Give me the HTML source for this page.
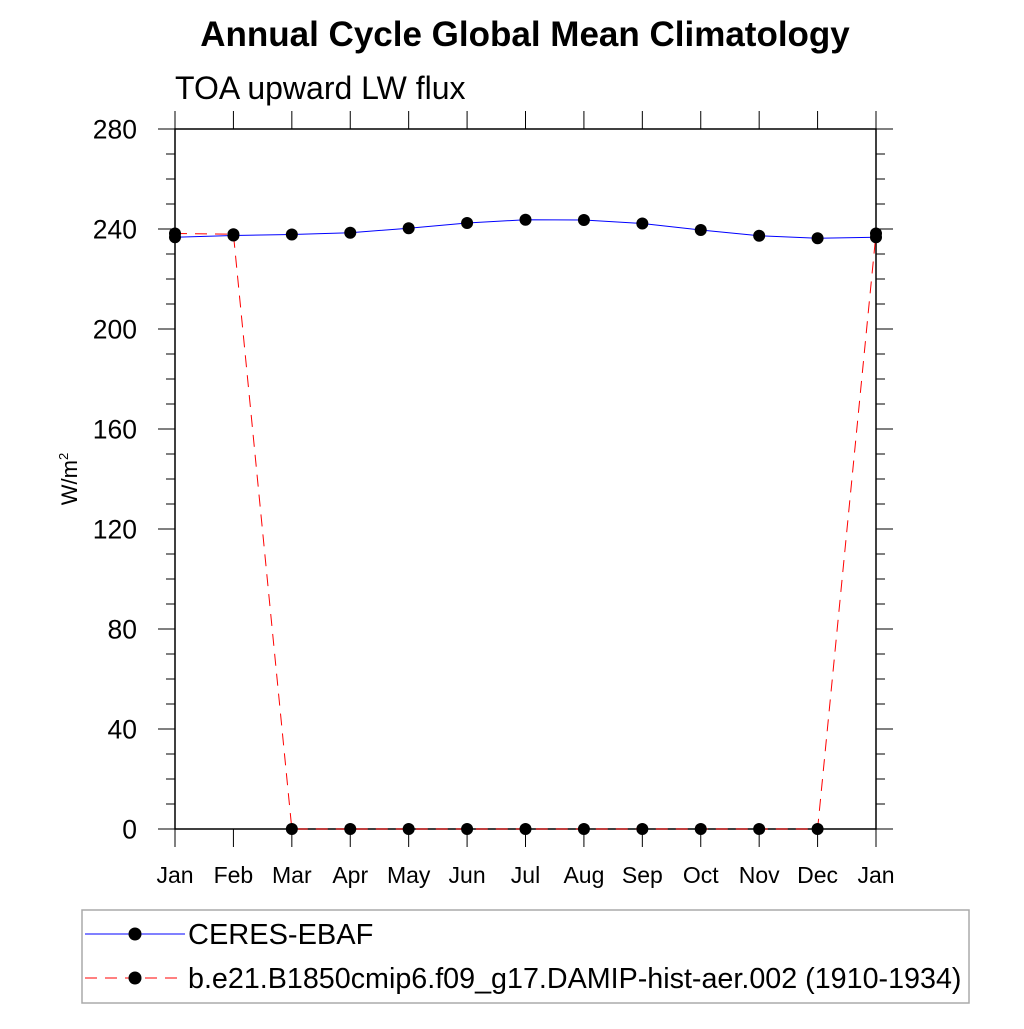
<!DOCTYPE html>
<html><head><meta charset="utf-8"><style>
body{margin:0;background:#fff}
svg text{font-family:"Liberation Sans",sans-serif}
</style></head><body>
<svg id="c" width="1024" height="1024" xmlns="http://www.w3.org/2000/svg">
<text x="525" y="46" font-size="35" font-weight="bold" text-anchor="middle">Annual Cycle Global Mean Climatology</text>
<text x="175" y="99" font-size="32">TOA upward LW flux</text>
<text transform="translate(77,479) rotate(-90)" font-size="22" text-anchor="middle">W/m<tspan dy="-9" font-size="13">2</tspan></text>
<g id="axes"></g><g id="series"></g>
<rect x="82" y="910" width="887" height="93" fill="none" stroke="#aaa" stroke-width="1.5"/>
<g>
<line x1="85" y1="934" x2="185" y2="934" stroke="#00f" stroke-width="1"/><circle cx="135" cy="934" r="6.5"/>
<text x="188" y="944" font-size="29">CERES-EBAF</text></g>
<g>
<line x1="85" y1="978" x2="185" y2="978" stroke="#f00" stroke-width="1" stroke-dasharray="12,8"/><circle cx="135" cy="978" r="6.5"/>
<text x="188" y="988" font-size="28.7">b.e21.B1850cmip6.f09_g17.DAMIP-hist-aer.002 (1910-1934)</text></g>
</svg>
<script>
const months=["Jan","Feb","Mar","Apr","May","Jun","Jul","Aug","Sep","Oct","Nov","Dec","Jan"];
const ceres=[236.7,237.4,237.8,238.5,240.3,242.4,243.7,243.6,242.2,239.6,237.3,236.3,236.7];
const model=[238.2,237.9,0,0,0,0,0,0,0,0,0,0,238.2];
const yTicks=[0,40,80,120,160,200,240,280];
const L=175,R=876,T=129,B=829,ymax=280;
const xs=i=>L+(R-L)*i/12, ys=v=>B-(B-T)*v/ymax;
const NS="http://www.w3.org/2000/svg";
function mk(tag,at,p){const e=document.createElementNS(NS,tag);for(const k in at)e.setAttribute(k,at[k]);p.appendChild(e);return e;}
const ax=document.getElementById('axes'),sr=document.getElementById('series');
const fr=mk('rect',{x:L,y:T,width:R-L,height:B-T,fill:'none',stroke:'#000','stroke-width':1.5},ax);


for(let v=0;v<=ymax;v+=10){const y=ys(v),maj=v%40==0,l=maj?17:9;
 mk('line',{x1:L-l,y1:y,x2:L,y2:y,stroke:'#000','stroke-width':1},ax);
 mk('line',{x1:R,y1:y,x2:R+l,y2:y,stroke:'#000','stroke-width':1},ax);}
yTicks.forEach(v=>{const t=mk('text',{x:L-38,y:ys(v)+9.5,'font-size':26.5,'text-anchor':'end'},ax);t.textContent=v;
 
 });
months.forEach((m,i)=>{const x=xs(i);
 mk('line',{x1:x,y1:T-18,x2:x,y2:T,stroke:'#000','stroke-width':1},ax);
 mk('line',{x1:x,y1:B,x2:x,y2:B+18,stroke:'#000','stroke-width':1},ax);
 const t=mk('text',{x:x,y:B+54,'font-size':23,'text-anchor':'middle'},ax);t.textContent=m;
 
 });
function series(vals,color,dash,name){
 const pl=mk('polyline',{points:vals.map((v,i)=>xs(i)+','+ys(v)).join(' '),fill:'none',stroke:color,'stroke-width':1,'stroke-dasharray':dash},sr);
 
 
 vals.forEach((v,i)=>{const c=mk('circle',{cx:xs(i),cy:ys(v),r:6},sr);
  
  });}
series(model,'#f00','12,8','model');
series(ceres,'#00f','none','ceres');
</script>
</body></html>
